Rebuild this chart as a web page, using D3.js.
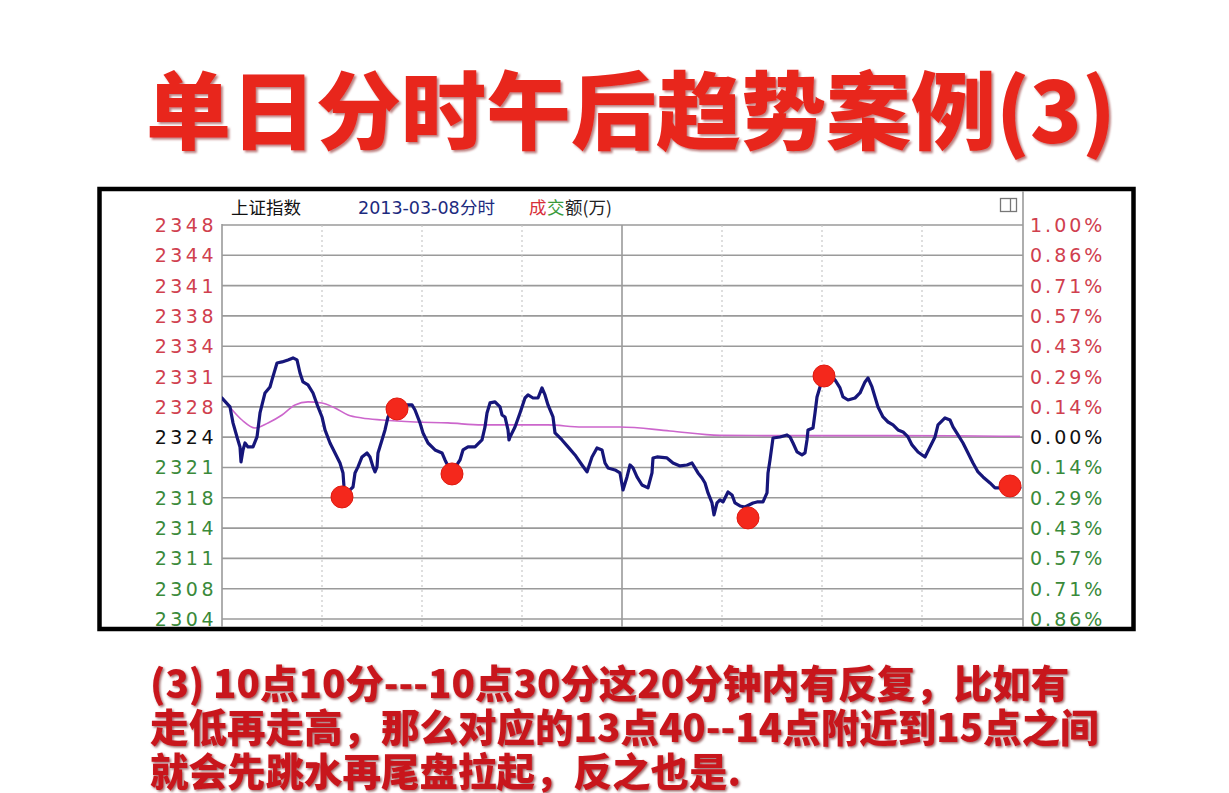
<!DOCTYPE html>
<html>
<head>
<meta charset="utf-8">
<script src="https://cdn.jsdelivr.net/npm/d3@7"></script>
<style>
  html, body { margin: 0; padding: 0; background: #ffffff; }
  svg { display: block; }
</style>
</head>
<body>
<svg id="chart" width="1229" height="793"></svg>
<script>
// ---------------- DATA ----------------
const titleText = "单日分时午后趋势案例(3)";
const noteLines = [
  "(3) 10点10分---10点30分这20分钟内有反复，比如有",
  "走低再走高，那么对应的13点40--14点附近到15点之间",
  "就会先跳水再尾盘拉起，反之也是."
];
const preClose = 2324.3;
const leftTickLabels  = ["2348","2344","2341","2338","2334","2331","2328","2324","2321","2318","2314","2311","2308","2304"];
const rightTickLabels = ["1.00%","0.86%","0.71%","0.57%","0.43%","0.29%","0.14%","0.00%","0.14%","0.29%","0.43%","0.57%","0.71%","0.86%"];
const tickSteps = [7,6,5,4,3,2,1,0,-1,-2,-3,-4,-5,-6];   // multiples of 1/7 %
const timeGridMinutes = [30,60,90,120,150,180,210];       // minutes after 9:30

// index price (minutes after 9:30, value)
const priceTimes = [0,2.4,3.3,4.5,5.4,5.7,6.3,6.9,7.8,9.3,10.5,11.4,12.9,14.4,15,16.5,18,19.8,21.3,22.5,23.4,24.3,25.8,27.3,28.8,30,30.9,32.4,33.9,35.4,36.3,36.6,37.5,38.4,39.3,39.9,40.8,42,43.5,44.4,45.3,45.9,46.5,46.8,48,48.9,49.8,51,51.9,55.5,57,57.9,59.4,60.3,61.8,63.9,66,66.9,68.4,69.9,71.4,72.3,73.8,75.9,78,78.9,79.5,80.4,81.9,83.4,84,84.9,85.8,86.1,86.4,87.9,89.4,90.9,91.8,93.3,94.8,96,96.9,97.8,99.3,99.9,102,103.8,105.9,108,109.5,111,112.5,114,114.9,115.8,117.9,119.4,120.3,121.5,122.4,123.3,124.5,126,127.8,129,129.3,130.5,133.5,135.3,137.4,139.5,141,141.9,142.8,144,144.9,145.8,147,147.6,148.5,149.4,150.3,151.8,153,153.9,155.4,156.9,159.3,160.5,162.3,163.5,163.8,164.4,165.3,167.4,169.5,170.4,171.3,172.5,174,174.9,175.5,175.8,177.3,177.9,178.5,179.4,180.6,182.4,183.9,185.4,186.3,187.8,189.9,191.4,192.9,193.8,195,195.9,196.8,198.3,199.8,201.3,202.8,204.3,205.8,207,208.8,210.9,212.4,213.9,214.8,216.9,218.4,219.3,220.8,222.3,223.8,225.3,226.8,228.3,230.4,231.9,234,236.4,239.4];
const priceValues = [2328.59,2327.61,2325.86,2324.32,2323.23,2321.58,2322.90,2323.66,2323.23,2323.23,2324.32,2326.95,2329.14,2329.80,2330.57,2332.43,2332.54,2332.76,2332.98,2332.76,2331.33,2330.35,2330.02,2329.14,2327.61,2326.51,2325.09,2323.66,2322.57,2321.47,2320.38,2318.84,2318.30,2318.52,2318.84,2320.38,2321.04,2322.13,2322.57,2322.13,2321.04,2320.49,2321.04,2322.57,2323.99,2325.09,2326.51,2327.28,2327.39,2327.83,2327.83,2327.28,2325.86,2324.76,2323.66,2322.90,2322.57,2321.80,2320.71,2320.93,2321.80,2322.90,2323.23,2323.23,2323.99,2325.42,2326.95,2328.05,2328.16,2327.61,2326.73,2326.51,2325.09,2323.99,2324.32,2325.42,2326.95,2328.59,2328.92,2328.59,2328.59,2329.69,2328.92,2327.83,2326.51,2324.76,2323.99,2323.23,2322.35,2321.25,2320.49,2322.13,2323.12,2322.90,2321.47,2320.93,2320.71,2320.38,2318.52,2319.94,2321.25,2320.93,2319.94,2319.06,2318.74,2320.38,2322.02,2322.13,2322.02,2321.47,2321.15,2321.25,2321.47,2320.93,2320.38,2319.83,2319.28,2318.19,2317.09,2315.78,2317.09,2317.42,2317.20,2318.30,2317.97,2317.09,2316.76,2316.65,2317.09,2317.20,2317.20,2318.19,2320.38,2321.80,2324.21,2324.32,2324.54,2324.32,2323.66,2322.68,2322.35,2322.57,2323.99,2325.09,2325.31,2326.95,2328.70,2329.80,2330.78,2331.22,2330.57,2329.69,2328.70,2328.37,2328.59,2329.14,2330.35,2330.78,2329.80,2328.70,2327.61,2326.51,2325.96,2325.64,2325.09,2324.87,2324.32,2323.45,2322.68,2322.13,2323.23,2324.32,2325.64,2326.40,2326.18,2325.42,2324.54,2323.66,2322.57,2321.47,2320.49,2319.94,2319.28,2318.74,2318.74,2318.85,2318.74];

// average price line
const avgTimes  = [0,1.8,6,9.9,13.8,18,21.9,25.8,30,33.9,37.8,42,48,57.9,67.8,78,97.8,108,119.4,134.4,149.4,165.3,199.5,219.3,239.4];
const avgValues = [2328.59,2327.83,2326.18,2325.31,2325.86,2326.73,2327.83,2328.16,2328.05,2327.50,2326.73,2326.40,2326.18,2325.96,2325.86,2325.64,2325.64,2325.42,2325.42,2324.98,2324.50,2324.47,2324.47,2324.45,2324.38];

// highlighted turning points
const markTimes  = [36,52.5,69,157.8,180.6,236.4];
const markValues = [2317.75,2327.39,2320.27,2315.45,2331.00,2318.95];

// ---------------- DRAW ----------------
const svg = d3.select("#chart");
const defs = svg.append("defs");
const f1 = defs.append("filter").attr("id","titleShadow").attr("x","-5%").attr("y","-20%").attr("width","110%").attr("height","140%");
f1.append("feDropShadow").attr("dx",2).attr("dy",2).attr("stdDeviation",1.2).attr("flood-color","#7a0000").attr("flood-opacity",0.5);
const f2 = defs.append("filter").attr("id","noteShadow").attr("x","-5%").attr("y","-20%").attr("width","110%").attr("height","140%");
f2.append("feDropShadow").attr("dx",1.5).attr("dy",1.5).attr("stdDeviation",1).attr("flood-color","#5a0000").attr("flood-opacity",0.6);

// Title
svg.append("text")
  .attr("x", 631).attr("y", 143)
  .attr("text-anchor","middle")
  .attr("font-family","'Noto Sans CJK SC', sans-serif")
  .attr("font-weight",900)
  .attr("font-size",85)
  .attr("fill","#e8261e")
  .attr("filter","url(#titleShadow)")
  .text(titleText);

// Scales
const plotL = 222, plotR = 1022, plotTop = 225, plotBottom = 619;
const x = d3.scaleLinear().domain([0,240]).range([plotL, plotR]);
const yPct = d3.scaleLinear().domain([-6/7, 1]).range([plotBottom, plotTop]);
const pct = v => (v / preClose - 1) * 100;
const y = v => yPct(pct(v));

// Frame
svg.append("rect").attr("x",99.5).attr("y",189).attr("width",1034).attr("height",440)
  .attr("fill","#ffffff").attr("stroke","#000").attr("stroke-width",4.5);

const grid = svg.append("g");
// horizontal grid
grid.selectAll("line.h").data(tickSteps).join("line")
  .attr("x1", plotL).attr("x2", 1023)
  .attr("y1", d => yPct(d/7)).attr("y2", d => yPct(d/7))
  .attr("stroke", "#9a9a9a").attr("stroke-width", 1.6);
// vertical grid
grid.selectAll("line.v").data(timeGridMinutes).join("line")
  .attr("x1", d => x(d)).attr("x2", d => x(d))
  .attr("y1", plotTop).attr("y2", 627)
  .attr("stroke", d => d === 120 ? "#9a9a9a" : "#c4c4c4")
  .attr("stroke-width", d => d === 120 ? 1.6 : 1.1)
  .attr("stroke-dasharray", d => d === 120 ? null : "2,3");
// box lines
grid.append("line").attr("x1",plotL).attr("x2",plotL).attr("y1",plotTop-1).attr("y2",627).attr("stroke","#9a9a9a").attr("stroke-width",1.6);
grid.append("line").attr("x1",1023).attr("x2",1023).attr("y1",191).attr("y2",627).attr("stroke","#9a9a9a").attr("stroke-width",1.6);

// header icon
svg.append("rect").attr("x",1000.5).attr("y",198.5).attr("width",16).attr("height",13).attr("fill","none").attr("stroke","#777").attr("stroke-width",1.3);
svg.append("line").attr("x1",1010.5).attr("x2",1010.5).attr("y1",198.5).attr("y2",211.5).attr("stroke","#777").attr("stroke-width",1.3);

// Header text
const hdr = svg.append("g").attr("font-size",17.5);
hdr.append("text").attr("x",231).attr("y",214).attr("font-family","'Noto Sans CJK SC', sans-serif").attr("fill","#111").text("上证指数");
hdr.append("text").attr("x",358).attr("y",214).attr("font-family","'DejaVu Sans', sans-serif").attr("fill","#1c2a7e").text("2013-03-08");
hdr.append("text").attr("x",460).attr("y",214).attr("font-family","'Noto Sans CJK SC', sans-serif").attr("fill","#1c2a7e").text("分时");
hdr.append("text").attr("x",529).attr("y",214).attr("font-family","'Noto Sans CJK SC', sans-serif").attr("fill","#d8303a").text("成");
hdr.append("text").attr("x",547).attr("y",214).attr("font-family","'Noto Sans CJK SC', sans-serif").attr("fill","#3a9a3a").text("交");
hdr.append("text").attr("x",565).attr("y",214).attr("font-family","'Noto Sans CJK SC', sans-serif").attr("fill","#222").text("额(万)");

// Axis labels
const tickColor = d => d > 0 ? "#d0404e" : (d === 0 ? "#111" : "#3a8a3a");
svg.append("g").selectAll("text").data(tickSteps).join("text")
  .attr("x", 217).attr("y", d => yPct(d/7) + 7)
  .attr("text-anchor","end")
  .attr("font-family","'DejaVu Sans', sans-serif").attr("font-size",19)
  .attr("letter-spacing","3.5px")
  .attr("fill", tickColor)
  .text((d,i) => leftTickLabels[i]);
svg.append("g").selectAll("text").data(tickSteps).join("text")
  .attr("x", 1030).attr("y", d => yPct(d/7) + 7)
  .attr("font-family","'DejaVu Sans', sans-serif").attr("font-size",19)
  .attr("letter-spacing","3px")
  .attr("fill", tickColor)
  .text((d,i) => rightTickLabels[i]);

// Lines
const clipId = "plotClip";
defs.append("clipPath").attr("id",clipId).append("rect").attr("x",plotL).attr("y",plotTop-2).attr("width",plotR-plotL+1).attr("height",627-plotTop+2);
const plot = svg.append("g").attr("clip-path",`url(#${clipId})`);

const avgData = avgTimes.map((t,i) => [t, avgValues[i]]);
const priceData = priceTimes.map((t,i) => [t, priceValues[i]]);

plot.append("path").datum(avgData)
  .attr("d", d3.line().x(d => x(d[0])).y(d => y(d[1])).curve(d3.curveMonotoneX))
  .attr("fill","none").attr("stroke","#cc66cc").attr("stroke-width",1.6);
plot.append("path").datum(priceData)
  .attr("d", d3.line().x(d => x(d[0])).y(d => y(d[1])))
  .attr("fill","none").attr("stroke","#16167a").attr("stroke-width",3.2)
  .attr("stroke-linejoin","round").attr("stroke-linecap","round");

// Markers
svg.append("g").selectAll("circle").data(markTimes).join("circle")
  .attr("cx", d => x(d)).attr("cy", (d,i) => y(markValues[i]))
  .attr("r", 11)
  .attr("fill","#f4281c").attr("stroke","#e01a10").attr("stroke-width",1);

// Note text
svg.append("g").selectAll("text").data(noteLines).join("text")
  .attr("x", 150).attr("y", (d,i) => 698 + i*44)
  .attr("font-family","'Noto Sans CJK SC', sans-serif")
  .attr("font-weight",900).attr("font-size",38.5)
  .attr("fill","#c8161d")
  .attr("filter","url(#noteShadow)")
  .text(d => d);
</script>
</body>
</html>
